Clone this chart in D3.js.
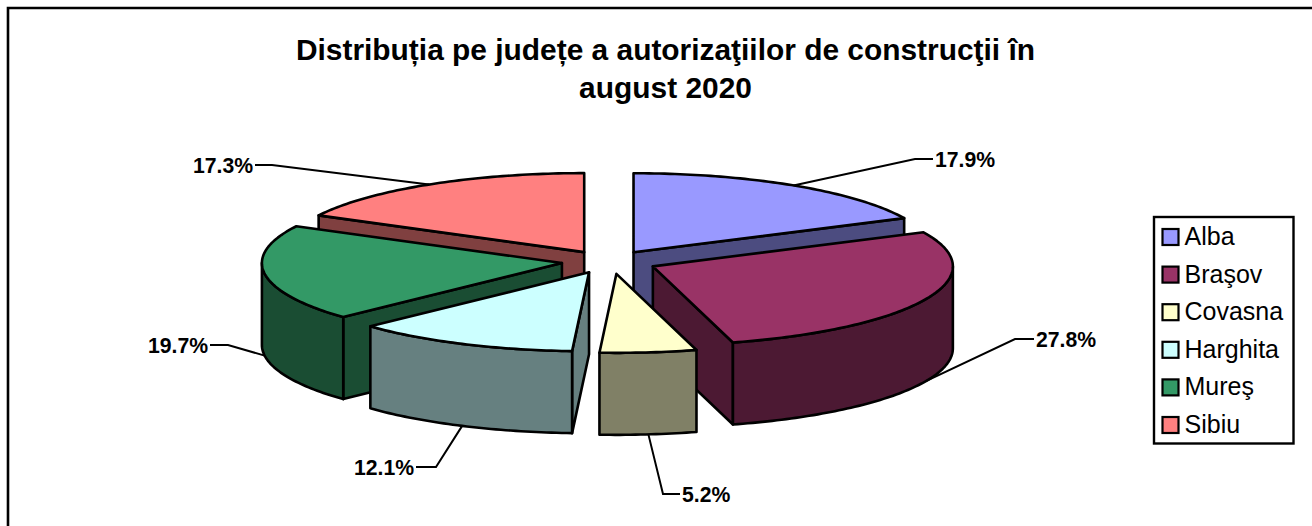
<!DOCTYPE html>
<html><head><meta charset="utf-8">
<script src="https://cdn.jsdelivr.net/npm/d3@7"></script>
<style>
html,body{margin:0;padding:0;background:#fff;overflow:hidden}
svg{display:block}
text{font-family:"Liberation Sans",Arial,sans-serif;fill:#000}
</style></head><body>
<svg id="c" width="1312" height="526"></svg>
<script>
const categories = ["Alba","Braşov","Covasna","Harghita","Mureş","Sibiu"];
const values = [17.9,27.8,5.2,12.1,19.7,17.3];
const topColors = ["#9999FF","#993366","#FFFFCC","#CCFFFF","#339966","#FF8080"];
const sideColors = ["#4C4C80","#4C1933","#808066","#668080","#1A4D33","#804040"];
const titleLines = ["Distribuția pe județe a autorizaţiilor de construcţii în","august 2020"];
const labelElbows = [[915,159],[1015,339],[663,494],[436,467],[228,345],[272,165]];
const labelEnds = [[933,159],[1034,339],[680,494],[416,467],[210,345],[255,165]];
const sliceNudgeX = [0.5,2.5,3,0,-1,-0.5];
const sliceNudgeY = [1,0,0.5,0,0,1];
const paintOrder = [0,5,4,1,3,2];

const svg = d3.select("#c");
const W = {cx:608.5, cy:261.4, rx:300, ry:79, ex:46, ey:12, depth:82};
const pie = d3.pie().sort(null).value(d=>d);
const arcs = pie(values);

const px = d3.scaleLinear().domain([-1,1]).range([-W.rx,W.rx]);
const py = d3.scaleLinear().domain([-1,1]).range([-W.ry,W.ry]);

function center(a){
  const m=(a.startAngle+a.endAngle)/2;
  return [W.cx+W.ex*Math.sin(m)+sliceNudgeX[a.index], W.cy-W.ey*Math.cos(m)+sliceNudgeY[a.index]];
}
function rim(c,t){ return [c[0]+px(Math.sin(t)), c[1]+py(-Math.cos(t))]; }
function arcPts(c,a0,a1){
  const n=Math.max(2,Math.ceil((a1-a0)/(Math.PI/180))), out=[];
  for(let i=0;i<=n;i++) out.push(rim(c,a0+(a1-a0)*i/n));
  return out;
}
const line=d3.line();
const gs=svg.append("g");
const strokeW=2.6;

function poly(pts,fill){
  gs.append("path").attr("d",line(pts)+"Z").attr("fill",fill)
    .attr("stroke","#000").attr("stroke-width",strokeW).attr("stroke-linejoin","round");
}
paintOrder.forEach(i=>{
  const a=arcs[i], c=center(a), d=W.depth, top=topColors[i], side=sideColors[i];
  const down=p=>[p[0],p[1]+d];
  if(Math.sin(a.endAngle)>1e-6){
    const e=rim(c,a.endAngle);
    poly([c,e,down(e),down(c)],side);
  }
  if(Math.sin(a.startAngle)<-1e-6){
    const e=rim(c,a.startAngle);
    poly([c,e,down(e),down(c)],side);
  }
  const s0=Math.max(a.startAngle,Math.PI/2), s1=Math.min(a.endAngle,3*Math.PI/2);
  if(s1>s0){
    const p=arcPts(c,s0,s1);
    poly(p.concat(p.slice().reverse().map(down)),side);
  }
  poly([c].concat(arcPts(c,a.startAngle,a.endAngle)),top);
});

// frame
svg.append("path").attr("d",d3.line()([[1320,8],[8,8],[8,534]]))
  .attr("fill","none").attr("stroke","#000").attr("stroke-width",2.6);

// title
svg.append("g").selectAll("text").data(titleLines).join("text")
  .attr("x",665.5).attr("y",(d,i)=>60+i*38).attr("text-anchor","middle")
  .attr("font-weight","bold").attr("font-size",29.9).text(d=>d);

// leaders + labels
arcs.forEach((a,i)=>{
  const m=(a.startAngle+a.endAngle)/2, c=center(a);
  let s=rim(c,m);
  if(Math.cos(m)<0) s=[s[0],s[1]+W.depth];
  svg.append("path").attr("d",line([s,labelElbows[i],labelEnds[i]]))
    .attr("fill","none").attr("stroke","#000").attr("stroke-width",2);
  const rightSide=labelEnds[i][0]>labelElbows[i][0];
  svg.append("text")
    .attr("x",labelEnds[i][0]+(rightSide?2:-2))
    .attr("y",labelEnds[i][1]+7.5)
    .attr("text-anchor",rightSide?"start":"end")
    .attr("font-weight","bold").attr("font-size",21.2)
    .text(values[i].toFixed(1)+"%");
});

// legend
const lg=svg.append("g");
lg.append("rect").attr("x",1154).attr("y",217).attr("width",139.5).attr("height",226.5)
  .attr("fill","#fff").attr("stroke","#000").attr("stroke-width",2.4);
const ly=d3.scalePoint().domain(categories).range([237,425]);
categories.forEach((n,i)=>{
  lg.append("rect").attr("x",1162.5).attr("y",ly(n)-8).attr("width",16).attr("height",16)
    .attr("fill",topColors[i]).attr("stroke","#000").attr("stroke-width",2.2);
  lg.append("text").attr("x",1184.5).attr("y",ly(n)+8).attr("font-size",25).text(n);
});
</script>
</body></html>
